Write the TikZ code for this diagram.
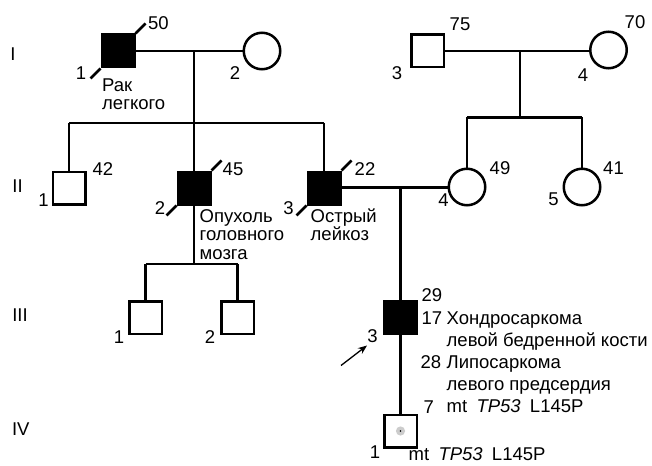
\documentclass[tikz,border=0pt]{standalone}
\usepackage{fontspec}
\setmainfont{Liberation Sans}
\usetikzlibrary{arrows.meta,calc}
\begin{document}
\begin{tikzpicture}[x=1pt,y=-1pt,
  conn/.style={line width=2.5pt},
  male/.style={draw, line width=2.5pt, rectangle, minimum size=32.5pt, inner sep=0pt},
  female/.style={draw, line width=2.5pt, circle, minimum size=36.5pt, inner sep=0pt},
  affected/.style={fill=black},
  deadslash/.style={line width=2.5pt},
  lbl/.style={font=\fontsize{18.5}{19}\selectfont, inner sep=0pt},
  txt/.style={font=\fontsize{18.5}{19}\selectfont, inner sep=0pt, anchor=base west}]
\useasboundingbox (0,0) rectangle (652,465);

% generation labels
\node[lbl] (gI) at (13,54) {I};
\node[lbl] (gII) at (17.5,186) {II};
\node[lbl] (gIII) at (20,315) {III};
\node[lbl] (gIV) at (20.8,429) {IV};

% individuals
\node[male, affected] (I1) at (118,51) {};
\node[female, fill=white] (I2) at (262,51) {};
\node[male, fill=white] (I3) at (427.5,51) {};
\node[female, fill=white] (I4) at (608.5,50) {};

\node[male, fill=white] (II1) at (69,188) {};
\node[male, affected] (II2) at (194,188) {};
\node[male, affected] (II3) at (324,188) {};
\node[female, fill=white] (II4) at (467,187) {};
\node[female, fill=white] (II5) at (582,187) {};

\node[male, fill=white] (III1) at (145.5,317.5) {};
\node[male, fill=white] (III2) at (237.5,317.5) {};
\node[male, affected] (III3) at (400.5,317.5) {};

\node[male, fill=white] (IV1) at (400.5,431) {};
\fill[gray!40] (IV1.center) circle (4.6);
\fill[black] (IV1.center) circle (0.8);

% deceased slashes
\draw[deadslash] ($(I1.south west)+(-10,10)$) -- (I1.south west);
\draw[deadslash] (I1.north east) -- ($(I1.north east)+(10,-10)$);
\draw[deadslash] ($(II2.south west)+(-10,10)$) -- (II2.south west);
\draw[deadslash] (II2.north east) -- ($(II2.north east)+(10,-10)$);
\draw[deadslash] ($(II3.south west)+(-10,10)$) -- (II3.south west);
\draw[deadslash] (II3.north east) -- ($(II3.north east)+(10,-10)$);

% connectors generation I
\coordinate (mI) at (194,51);
\coordinate (sI) at (194,123);
\coordinate (sIa) at (69,123);
\coordinate (sIb) at (324,123);
\draw[conn] (I1.east) -- (I2.west);
\draw[conn] (mI) -- (sI);
\draw[conn] (sIa) -- (sIb);
\draw[conn] (sIa) -- (II1.north);
\draw[conn] (sI) -- (II2.north);
\draw[conn] (sIb) -- (II3.north);

\coordinate (mIr) at (520,51);
\coordinate (sIr) at (520,117.5);
\coordinate (sIra) at (467,117.5);
\coordinate (sIrb) at (582,117.5);
\draw[conn] (I3.east) -- (I4.west |- I3.east);
\draw[conn] (mIr) -- (sIr);
\draw[conn] (sIra) -- (sIrb);
\draw[conn] (sIra) -- (II4.north);
\draw[conn] (sIrb) -- (II5.north);

% generation II
\coordinate (mII) at (400.5,187.5);
\draw[conn] (II3.east |- mII) -- (II4.west |- mII);
\draw[conn] (mII) -- (III3.north);
\coordinate (sII) at (194,264);
\coordinate (sIIa) at (145.5,264);
\coordinate (sIIb) at (237.5,264);
\draw[conn] (II2.south) -- (sII);
\draw[conn] (sIIa) -- (sIIb);
\draw[conn] (sIIa) -- (III1.north);
\draw[conn] (sIIb) -- (III2.north);

% generation III
\draw[conn] (III3.south) -- (IV1.north);

% proband arrow
\coordinate (arrS) at (341,365.5);
\coordinate (arrE) at (367,345.5);
\draw[line width=1.3pt, -{Stealth[length=9pt,width=7pt]}] (arrS) -- (arrE);

% number labels
\node[lbl] (nI1) at (81,73) {1};
\node[lbl] (aI1) at (158.5,23) {50};
\node[lbl] (nI2) at (235,73) {2};
\node[lbl] (nI3) at (397,73) {3};
\node[lbl] (aI3) at (460,24) {75};
\node[lbl] (nI4) at (583,75) {4};
\node[lbl] (aI4) at (635,22) {70};

\node[lbl] (nII1) at (43.5,200.5) {1};
\node[lbl] (aII1) at (103,169.5) {42};
\node[lbl] (nII2) at (160,208) {2};
\node[lbl] (aII2) at (233,169.5) {45};
\node[lbl] (nII3) at (288.5,208) {3};
\node[lbl] (aII3) at (365,169.5) {22};
\node[lbl] (nII4) at (443.5,200.5) {4};
\node[lbl] (aII4) at (500,168.5) {49};
\node[lbl] (nII5) at (553.5,199.5) {5};
\node[lbl] (aII5) at (613.5,168.5) {41};

\node[lbl] (nIII1) at (119,337) {1};
\node[lbl] (nIII2) at (210,337) {2};
\node[lbl] (nIII3) at (372.5,336) {3};
\node[lbl] (nIV1) at (375,452.5) {1};

% texts
\node[txt] (tI1a) at (102,92) {Рак};
\node[txt] (tI1b) at (102,110) {легкого};
\node[txt] (tII2a) at (199.5,222) {Опухоль};
\node[txt] (tII2b) at (199.5,240.5) {головного};
\node[txt] (tII2c) at (199.5,259) {мозга};
\node[txt] (tII3a) at (310.5,222) {Острый};
\node[txt] (tII3b) at (310.5,240.5) {лейкоз};

\node[txt] (a29) at (421.5,301.5) {29};
\node[txt] (a17) at (421.5,324) {17};
\node[txt] (t1) at (446.5,324) {Хондросаркома};
\node[txt] (t2) at (446.5,346) {левой бедренной кости};
\node[txt] (a28) at (420.5,368) {28};
\node[txt] (t3) at (446.5,368) {Липосаркома};
\node[txt] (t4) at (446.5,390) {левого предсердия};
\node[txt] (a7) at (423.5,413) {7};
\node[txt] (t5) at (446.5,412) {mt\enspace\textit{TP53}\enspace L145P};
\node[txt] (t6) at (408.5,460) {mt\enspace\textit{TP53}\enspace L145P};
\end{tikzpicture}
\end{document}
